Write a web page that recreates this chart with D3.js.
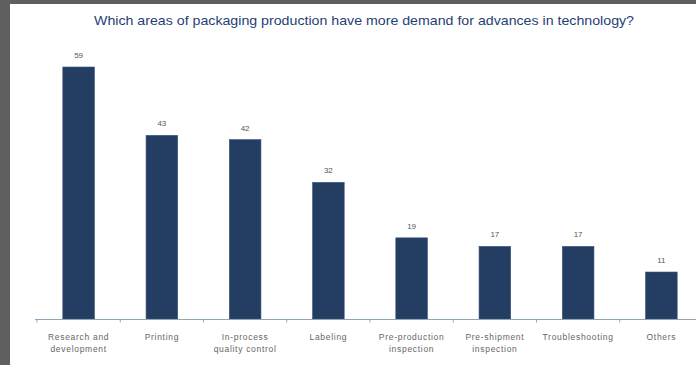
<!DOCTYPE html>
<html>
<head>
<meta charset="utf-8">
<script src="https://cdn.jsdelivr.net/npm/d3@7"></script>
<style>
  html, body { margin: 0; padding: 0; background: #5f5f5f; }
  svg { display: block; }
</style>
</head>
<body>
<script>
// Survey responses: demand for technology advances by packaging area
const categories = [
  ["Research and", "development"],
  ["Printing"],
  ["In-process", "quality control"],
  ["Labeling"],
  ["Pre-production", "inspection"],
  ["Pre-shipment", "inspection"],
  ["Troubleshooting"],
  ["Others"]
];
const values = [59, 43, 42, 32, 19, 17, 17, 11];
const title = "Which areas of packaging production have more demand for advances in technology?";

const W = 696, H = 365;
const svg = d3.select("body").append("svg").attr("width", W).attr("height", H);

// gray frame strips at top and left, white panel elsewhere
svg.append("rect").attr("x", 0).attr("y", 0).attr("width", W).attr("height", H).attr("fill", "#5f5f5f");
svg.append("rect").attr("x", 10).attr("y", 4).attr("width", W - 10).attr("height", H - 4).attr("fill", "#ffffff");

const keys = categories.map((c, i) => i);
const x0 = 37, x1 = 703;
const x = d3.scaleBand().domain(keys).range([x0, x1]).paddingInner(0.62).paddingOuter(0.31);
const y = d3.scaleLinear().domain([0, 59]).range([319, 67]);

svg.append("text")
  .attr("x", 364).attr("y", 25)
  .attr("text-anchor", "middle")
  .attr("font-family", "Liberation Sans, Arial, sans-serif")
  .attr("font-size", 13)
  .attr("fill", "#1f3f75")
  .attr("textLength", 540)
  .attr("lengthAdjust", "spacingAndGlyphs")
  .text(title);

// bars
svg.append("g").selectAll("rect").data(values).join("rect")
  .attr("x", (d, i) => x(i))
  .attr("y", d => y(d))
  .attr("width", x.bandwidth())
  .attr("height", d => y(0) - y(d))
  .attr("fill", "#243d63")
  .attr("stroke", "#3b557a")
  .attr("stroke-width", 0.6);

// value labels
svg.append("g").selectAll("text").data(values).join("text")
  .attr("x", (d, i) => x(i) + x.bandwidth() / 2)
  .attr("y", d => y(d) - 9)
  .attr("text-anchor", "middle")
  .attr("font-family", "Liberation Sans, Arial, sans-serif")
  .attr("font-size", 8)
  .attr("fill", "#555")
  .text(d => d);

// category axis with ticks between bands
const axisG = svg.append("g").attr("transform", "translate(0,319)");
axisG.append("line")
  .attr("x1", 35).attr("x2", x1).attr("y1", 0.5).attr("y2", 0.5)
  .attr("stroke", "#8fa6b4").attr("stroke-width", 1.2);
const bounds = d3.range(keys.length + 1).map(i => x0 + i * ((x1 - x0) / keys.length));
axisG.selectAll("line.tick").data(bounds).join("line")
  .attr("class", "tick")
  .attr("x1", d => d).attr("x2", d => d)
  .attr("y1", 0.5).attr("y2", 3.5)
  .attr("stroke", "#8fa6b4");

const lab = svg.append("g").selectAll("text").data(categories).join("text")
  .attr("x", (d, i) => x(i) + x.bandwidth() / 2)
  .attr("y", 340)
  .attr("text-anchor", "middle")
  .attr("font-family", "Liberation Sans, Arial, sans-serif")
  .attr("font-size", 8.5)
  .attr("letter-spacing", 0.7)
  .attr("fill", "#666");
lab.selectAll("tspan").data(d => d).join("tspan")
  .attr("x", function() { return d3.select(this.parentNode).attr("x"); })
  .attr("dy", (d, j) => j === 0 ? 0 : 12)
  .text(d => d);
</script>
</body>
</html>
